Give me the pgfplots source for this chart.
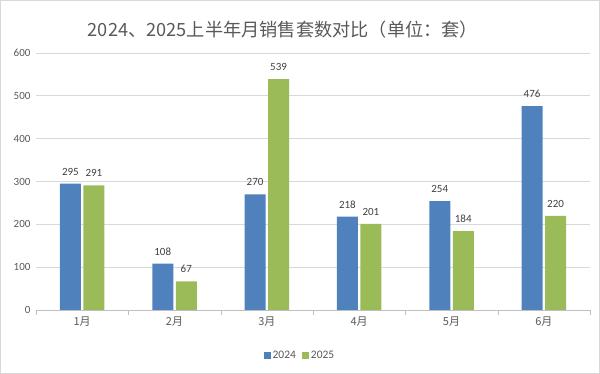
\documentclass[border=0pt]{standalone}
\usepackage{fontspec}
\setmainfont{Carlito}
\newfontfamily\cjk{Noto Sans CJK SC}
\usepackage{pgfplots}
\pgfplotsset{compat=1.18}
\definecolor{b24}{HTML}{4F81BD}
\definecolor{g25}{HTML}{9BBB59}
\definecolor{txt}{HTML}{595959}
\definecolor{grd}{HTML}{D9D9D9}
\definecolor{axc}{HTML}{BFBFBF}
\begin{document}
\begin{tikzpicture}[x=1pt,y=1pt]
\useasboundingbox (0,0) rectangle (600,374);
\draw[grd, line width=1pt] (0.5,0.5) rectangle (599.5,373.5);
\node[text=txt, font=\cjk\fontsize{18.2}{20}\selectfont] at (283,344) {2024、2025上半年月销售套数对比（单位：套）};
\begin{axis}[at={(36pt,64pt)}, anchor=south west, scale only axis,
  width=554pt, height=257pt,
  ybar=2.5pt, bar width=21pt,
  xmin=-0.5, xmax=5.5, ymin=0, ymax=600,
  ytick={0,100,...,600},
  xtick={0,...,5},
  xticklabels={1月,2月,3月,4月,5月,6月},
  xticklabel style={font=\cjk\fontsize{11}{13}\selectfont, text=txt, yshift=-3pt},
  yticklabel style={font=\fontsize{11}{13}\selectfont, text=txt, xshift=-2pt},
  /pgf/number format/assume math mode=true,
  major tick length=0pt,
  extra x ticks={-0.5,0.5,...,5.5},
  extra x tick labels={},
  extra x tick style={major tick length=5pt, tick align=outside, grid=none, tick style={axc}},
  axis x line*=bottom, axis y line*=left,
  y axis line style={draw=none},
  x axis line style={axc},
  ymajorgrids, grid style={grd, line width=0.8pt},
  enlargelimits=false,
  nodes near coords,
  every node near coord/.append style={font=\fontsize{11}{13}\selectfont, text=black!75, yshift=5pt},
  legend style={at={(0.4765,-0.1755)}, anchor=center, draw=none, fill=none,
    legend columns=2, font=\fontsize{11.5}{13}\selectfont, text=txt,
    /tikz/every even column/.append style={column sep=4pt}},
  legend image code/.code={\fill[#1] (0pt,-3.5pt) rectangle (7pt,3.5pt);},
]
\addplot[fill=b24, draw=none] coordinates {(0,295) (1,108) (2,270) (3,218) (4,254) (5,476)};
\addplot[fill=g25, draw=none] coordinates {(0,291) (1,67) (2,539) (3,201) (4,184) (5,220)};
\legend{2024,2025}
\end{axis}
\end{tikzpicture}
\end{document}
